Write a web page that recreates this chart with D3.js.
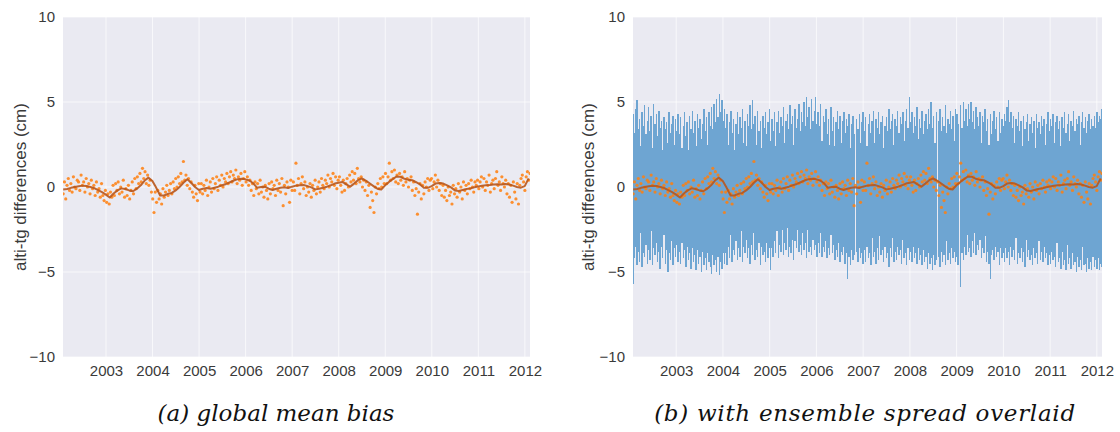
<!DOCTYPE html>
<html><head><meta charset="utf-8">
<script src="https://cdn.jsdelivr.net/npm/d3@7"></script>
<style>body{margin:0;background:#fff}svg{display:block}</style>
</head><body>
<svg id="chart" width="1120" height="432"></svg>
<script>
// ---------- data ----------
const yearTicks = [2003, 2004, 2005, 2006, 2007, 2008, 2009, 2010, 2011, 2012];
const yTickValues = [-10, -5, 0, 5, 10];
const yTickLabels = ["\u221210", "\u22125", "0", "5", "10"];
const timeStart = 2002.08, timeEnd = 2012.11;   // decimal years of first / last cycle
const captions = ["(a) global mean bias", "(b) with ensemble spread overlaid"];
const yLabel = "alti-tg differences (cm)";

// per-cycle (~10 day) global mean bias (cm)
const cycleBias = [
-0.4,0.3,-0.7,0.1,0.5,-0.2,0.2,-0.3,0.6,0.0,-0.1,0.4,0.3,-0.2,0.7,0.1,0.3,-0.3,0.5,0.0,0.2,-0.4,0.4,-0.1,0.1,-0.5,0.3,-0.3,-0.1,-0.6,0.2,-0.5,-0.8,-0.2,-0.9,-0.4,
-1.0,-0.3,-0.6,0.1,-0.5,0.2,-0.2,0.3,-0.4,0.0,-0.3,0.4,-0.6,-0.1,-0.5,0.1,-0.7,-0.2,0.3,-0.4,0.5,-0.1,0.6,0.2,0.8,0.3,1.1,0.5,0.9,0.2,0.7,0.1,0.4,-0.3,-0.7,-1.5,
-0.3,-0.9,-0.2,-0.7,-0.4,-1.0,-0.1,-0.6,-0.3,0.1,-0.5,-0.2,0.2,-0.4,0.3,-0.1,0.5,0.0,0.6,0.2,0.8,0.3,1.5,0.4,0.7,0.1,0.5,-0.1,0.3,-0.3,-0.6,0.1,-0.4,-0.8,0.2,-0.3,
0.2,-0.4,0.1,-0.2,0.4,-0.5,0.0,0.3,-0.3,0.5,-0.1,0.2,0.6,-0.2,0.4,0.1,0.7,0.0,0.5,0.3,0.8,0.2,0.6,0.9,0.3,0.7,0.5,1.0,0.2,0.6,0.4,0.8,0.1,0.5,0.9,0.3,
0.6,0.1,0.4,-0.2,0.2,-0.5,0.3,-0.1,0.2,-0.4,0.4,-0.3,0.0,-0.6,0.1,-0.2,-0.7,0.2,-0.4,0.3,-0.1,0.1,-0.5,0.4,-0.2,0.2,-0.3,0.5,-1.1,0.1,-0.4,0.3,0.0,-0.9,0.4,-0.2,
0.3,-0.2,1.4,0.1,0.5,-0.4,0.2,0.6,-0.1,0.3,-0.5,0.0,-0.3,0.2,-0.6,0.1,-0.2,0.4,-0.4,0.0,0.3,-0.3,0.5,0.1,-0.1,0.4,0.2,0.7,0.0,0.5,0.3,0.8,0.1,0.6,-0.1,0.4,
0.6,0.1,-0.3,0.4,-0.2,0.2,0.5,0.0,0.7,0.3,0.9,0.4,0.8,0.2,1.1,0.5,0.3,0.6,0.0,0.4,-0.2,0.3,-0.5,0.1,-1.2,-0.3,-0.8,-1.5,0.0,-0.4,0.2,-0.1,0.5,0.0,0.6,0.2,
0.8,0.2,0.6,1.4,0.4,0.9,0.5,1.0,0.3,0.7,0.2,0.8,0.4,0.6,0.1,0.9,0.3,0.5,0.0,0.4,0.6,-0.2,0.3,-0.5,-0.1,-1.6,-0.3,0.2,-0.7,0.1,-0.4,0.3,0.0,0.5,-0.2,0.4,
0.5,-0.1,0.3,0.7,0.0,0.4,-0.2,0.2,-0.5,0.1,-0.6,-0.2,-0.8,0.0,-0.5,-0.3,-1.0,0.1,-0.4,-0.1,-0.6,0.2,-0.3,0.0,-0.7,0.3,-0.2,0.1,-0.4,0.2,-0.1,0.4,0.0,-0.3,0.3,0.1,
0.4,-0.1,0.3,0.6,0.0,0.5,-0.2,0.3,0.1,0.7,-0.3,0.2,0.4,-0.1,0.5,0.9,0.1,0.3,-0.2,0.6,0.2,0.0,0.4,-0.4,0.2,-0.6,0.1,-0.9,0.3,-0.3,-0.7,0.2,-1.0,0.1,0.5,0.7,
0.3,-0.2,0.6,0.9,0.4,0.8
];

// monthly running mean (cm), first month at timeStart
const monthlyMean = [
-0.15,-0.12,-0.05,0.00,0.04,0.08,0.06,0.00,-0.06,-0.18,-0.30,-0.45,
-0.62,-0.38,-0.20,-0.08,-0.12,-0.20,-0.25,-0.10,0.10,0.38,0.55,0.35,
-0.05,-0.50,-0.50,-0.40,-0.35,-0.20,0.00,0.25,0.45,0.25,0.00,-0.18,
-0.10,-0.06,-0.10,-0.04,0.02,0.10,0.18,0.28,0.38,0.46,0.48,0.45,
0.38,0.22,-0.05,0.00,0.02,-0.10,-0.18,-0.10,-0.05,-0.02,-0.06,0.02,
0.08,0.10,0.12,0.05,-0.02,-0.14,-0.10,-0.04,0.02,0.10,0.20,0.25,
0.30,0.15,0.02,0.20,0.40,0.50,0.38,0.22,0.05,-0.10,-0.15,0.10,
0.30,0.47,0.62,0.60,0.48,0.42,0.40,0.28,0.15,-0.05,-0.05,0.05,
0.20,0.24,0.20,0.10,-0.02,-0.20,-0.24,-0.18,-0.12,-0.08,-0.02,0.03,
0.07,0.10,0.12,0.15,0.16,0.15,0.17,0.15,0.08,0.00,-0.04,0.05,
0.50
];

// ensemble spread envelope per cycle (cm); null = missing cycle
const spreadUpper = [
4.3,3.2,4.6,5.1,3.4,4.0,2.4,4.4,3.6,4.8,3.1,3.9,4.7,3.3,4.2,2.3,4.9,3.7,4.3,3.0,4.5,3.5,3.9,2.2,4.1,3.4,3.8,2.6,4.4,3.2,3.7,4.2,2.5,4.0,3.3,4.3,
3.1,4.1,2.3,3.6,4.4,3.0,3.8,2.2,4.2,3.4,4.5,3.2,3.9,2.4,4.3,3.5,4.0,2.8,3.7,4.6,3.3,4.1,2.5,4.4,3.6,4.7,3.4,4.9,3.8,5.2,4.1,5.5,4.4,5.1,3.9,4.6,
3.5,4.3,2.5,3.8,4.5,3.2,4.0,2.2,3.7,4.4,3.1,4.1,3.5,4.6,2.6,3.9,2.4,4.3,3.6,4.8,3.4,5.1,3.7,4.2,2.5,4.5,3.3,3.9,2.3,4.2,3.5,4.4,3.1,3.8,4.6,2.7,
4.0,3.3,4.4,2.4,3.8,4.5,3.2,4.1,3.6,4.7,2.6,3.9,4.3,3.4,4.8,3.7,4.2,2.5,4.6,3.5,4.0,4.9,3.3,4.4,3.8,5.0,3.6,5.3,4.1,4.7,3.4,5.2,3.9,4.5,5.3,3.7,
4.4,3.6,4.9,2.7,4.2,3.8,4.6,3.1,4.0,2.5,4.7,3.3,4.1,2.4,3.8,4.5,3.4,4.2,2.6,3.9,4.4,3.2,4.0,3.6,4.3,2.3,3.7,4.2,3.1,null,4.0,3.4,4.3,2.6,3.8,4.4,
3.3,4.1,2.4,3.7,4.3,3.2,3.9,4.5,2.6,4.0,3.5,4.4,3.1,3.8,4.2,2.3,3.6,4.1,3.3,4.6,3.4,3.9,4.3,2.5,4.0,3.6,4.5,3.2,4.1,3.7,4.4,2.7,3.9,4.6,3.5,5.3,
3.8,4.4,3.2,4.1,3.6,4.7,2.8,4.0,3.5,4.5,3.1,3.9,4.3,3.4,4.6,3.7,5.0,3.5,4.2,2.6,4.4,null,3.9,4.6,3.3,4.1,3.6,4.8,3.2,4.0,3.7,4.5,3.4,4.2,2.7,4.6,
4.3,3.7,null,4.8,3.5,5.0,3.9,4.6,3.6,4.9,4.0,5.0,3.8,4.5,3.4,4.7,4.1,3.6,4.4,2.6,4.2,3.8,4.6,3.3,4.0,2.5,4.3,3.1,3.9,4.5,3.4,4.1,2.7,4.4,3.2,4.0,
3.6,4.3,3.9,4.7,5.1,3.8,4.4,3.5,4.2,2.6,4.0,3.6,4.4,3.3,3.9,2.4,4.2,3.4,3.8,4.3,2.7,3.7,4.1,3.2,3.9,2.3,4.3,3.5,3.8,3.1,4.2,3.6,4.0,2.5,3.7,4.4,
3.3,4.0,3.6,4.3,2.6,3.8,4.2,3.4,3.9,2.4,4.1,3.5,4.4,3.2,3.7,4.3,2.7,3.9,3.6,4.5,3.3,4.0,3.7,4.2,2.5,3.8,4.4,3.5,4.1,3.2,3.9,4.3,3.4,4.0,3.6,4.2,
3.5,4.4,3.8,4.2,4.0,4.6
];
const spreadLower = [
-5.7,-4.2,-3.5,-4.6,-3.8,-4.4,-2.7,-4.7,-3.9,-4.1,-3.4,-4.5,-3.7,-4.3,-2.6,-4.6,-3.6,-4.0,-3.3,-4.4,-3.8,-4.8,-3.5,-4.2,-2.8,-4.5,-3.7,-5.0,-3.9,-4.3,-3.2,-4.6,-3.6,-4.1,-3.4,-4.4,
-3.8,-4.5,-3.3,-4.2,-3.7,-4.7,-3.5,-4.3,-3.9,-4.8,-3.6,-4.4,-4.0,-4.9,-3.7,-4.5,-4.1,-5.0,-3.8,-4.6,-4.2,-4.9,-3.9,-4.4,-4.7,-5.1,-4.0,-4.6,-4.3,-5.0,-4.1,-5.2,-4.4,-4.8,-3.9,-4.5,
-3.9,-4.6,-3.5,-4.2,-2.8,-4.4,-3.7,-4.0,-3.2,-4.3,-3.6,-4.1,-2.6,-4.4,-3.5,-3.9,-3.1,-4.2,-3.6,-4.5,-3.4,-4.0,-2.7,-4.3,-3.7,-4.1,-3.3,-4.6,-3.5,-4.0,-3.8,-4.4,-3.3,-4.2,-3.6,-4.9,
-3.6,-4.1,-3.2,-3.9,-2.6,-4.2,-3.4,-3.8,-2.5,-4.0,-3.3,-3.7,-2.4,-4.1,-3.5,-3.9,-3.1,-4.3,-3.2,-3.6,-2.5,-3.8,-3.4,-4.0,-2.7,-3.7,-3.3,-4.2,-2.5,-3.8,-3.5,-4.0,-3.1,-3.7,-3.4,-4.1,
-3.3,-3.9,-2.7,-4.1,-3.5,-3.8,-3.2,-4.2,-3.6,-4.0,-2.8,-3.9,-3.4,-4.3,-3.7,-4.1,-3.3,-4.4,-3.8,-4.0,-3.5,-4.5,-3.9,-5.4,-4.1,-4.6,-3.7,-4.3,-4.0,null,-3.8,-4.4,-3.6,-4.2,-3.9,-4.5,
-3.7,-4.4,-3.5,-4.2,-3.9,-4.6,-3.0,-4.1,-3.8,-4.5,-3.6,-4.3,-2.9,-4.0,-3.7,-4.4,-3.5,-4.2,-3.9,-4.7,-3.6,-4.1,-3.0,-4.4,-3.8,-4.3,-3.5,-4.0,-3.7,-4.5,-3.1,-4.2,-3.9,-4.6,-3.6,-4.3,
-3.8,-4.4,-3.5,-4.2,-3.9,-4.5,-3.6,-4.3,-4.0,-4.6,-3.7,-4.4,-4.1,-4.8,-3.9,-4.5,-4.2,-4.9,-4.0,-4.6,-4.3,null,-4.1,-4.7,-3.8,-4.4,-4.0,-4.6,-3.2,-4.3,-3.9,-4.5,-3.6,-4.2,-3.8,-4.4,
-4.1,-4.6,null,-5.9,-3.9,-4.3,-3.5,-4.0,-2.8,-3.8,-3.6,-4.1,-3.2,-3.9,-2.7,-4.0,-3.4,-3.7,-3.1,-4.2,-3.6,-3.9,-2.9,-4.4,-3.8,-4.5,-5.4,-4.0,-3.7,-4.3,-3.5,-4.1,-3.8,-4.6,-3.6,-4.2,
-3.9,-4.4,-3.6,-4.2,-3.8,-4.6,-3.5,-4.1,-3.7,-4.3,-3.0,-4.5,-3.9,-4.2,-3.6,-4.4,-3.8,-4.7,-3.1,-4.1,-3.7,-4.3,-4.0,-4.6,-3.6,-4.2,-3.9,-4.5,-3.2,-4.3,-3.8,-4.4,-3.5,-4.2,-3.9,-4.6,
-4.0,-4.5,-3.8,-4.3,-4.1,-4.7,-3.3,-4.4,-4.2,-4.8,-3.8,-4.6,-4.3,-4.9,-3.4,-4.5,-4.2,-4.8,-3.9,-4.6,-4.4,-5.0,-4.1,-4.7,-4.3,-4.9,-3.5,-4.6,-4.5,-5.0,-4.2,-4.8,-4.4,-4.9,-4.1,-4.7,
-4.3,-4.8,-4.2,-4.9,-4.5,-4.7
];

// ---------- derived tables ----------
const nCycles = cycleBias.length;
const cycleStep = (timeEnd - timeStart) / (nCycles - 1);
const cycles = cycleBias.map((v, i) => ({ t: timeStart + i * cycleStep, v,
  hi: spreadUpper[i], lo: spreadLower[i] }));
const monthly = monthlyMean.map((v, i) => ({ t: timeStart + i / 12, v }));

// ---------- drawing ----------
const svg = d3.select("#chart");
const panels = [
  { x0: 63, x1: 530, band: false, labelX: 22, caption: captions[0], capX: 276, capSpacing: 0 },
  { x0: 633, x1: 1102, band: true, labelX: 590, caption: captions[1], capX: 865, capSpacing: 0.7 }
];
const yTop = 17, yBot = 357;
const y = d3.scaleLinear().domain([-10, 10]).range([yBot, yTop]);

panels.forEach((p, k) => {
  const x = d3.scaleLinear().domain([2002.076, 2012.11]).range([p.x0, p.x1]);
  const g = svg.append("g");
  g.append("rect").attr("x", p.x0).attr("y", yTop).attr("width", p.x1 - p.x0)
    .attr("height", yBot - yTop).attr("fill", "#eaeaf2");

  const clipId = "clip" + k;
  svg.append("defs").append("clipPath").attr("id", clipId).append("rect")
    .attr("x", p.x0).attr("y", yTop).attr("width", p.x1 - p.x0).attr("height", yBot - yTop);

  // grid
  g.append("g").selectAll("line").data(yearTicks).join("line")
    .attr("x1", d => x(d)).attr("x2", d => x(d)).attr("y1", yTop).attr("y2", yBot)
    .attr("stroke", "#fff").attr("stroke-opacity", 0.7).attr("stroke-width", 1);
  g.append("g").selectAll("line").data(yTickValues).join("line")
    .attr("x1", p.x0).attr("x2", p.x1).attr("y1", d => y(d)).attr("y2", d => y(d))
    .attr("stroke", "#fff").attr("stroke-opacity", 0.7).attr("stroke-width", 1);

  const plot = g.append("g").attr("clip-path", `url(#${clipId})`);
  if (p.band) {
    const w = Math.abs(x(timeStart + cycleStep) - x(timeStart)) + 0.15;
    plot.append("g").selectAll("rect")
      .data(cycles.filter(d => d.hi !== null && d.lo !== null)).join("rect")
      .attr("x", d => x(d.t) - w / 2).attr("width", w)
      .attr("y", d => y(d.hi)).attr("height", d => y(d.lo) - y(d.hi))
      .attr("fill", "#6ea5d2").attr("shape-rendering", "crispEdges");
  }
  plot.append("g").selectAll("circle").data(cycles).join("circle")
    .attr("cx", d => x(d.t)).attr("cy", d => y(d.v)).attr("r", 1.6)
    .attr("fill", "#ff7f0e").attr("fill-opacity", 0.85);
  const line = d3.line().x(d => x(d.t)).y(d => y(d.v)).curve(d3.curveLinear);
  plot.append("path").datum(monthly).attr("d", line)
    .attr("fill", "none").attr("stroke", "#b8561c").attr("stroke-width", 2)
    .attr("stroke-linejoin", "round").attr("stroke-opacity", 0.9);

  // axes (seaborn style: labels only)
  const xAxis = d3.axisBottom(x).tickValues(yearTicks).tickFormat(d3.format("d"))
    .tickSize(0).tickPadding(8);
  const xa = g.append("g").attr("transform", `translate(0,${yBot})`).call(xAxis);
  const yAxis = d3.axisLeft(y).tickValues(yTickValues)
    .tickFormat((d, i) => yTickLabels[i]).tickSize(0).tickPadding(8);
  const ya = g.append("g").attr("transform", `translate(${p.x0},0)`).call(yAxis);
  [xa, ya].forEach(a => {
    a.select(".domain").remove();
    a.selectAll("text").attr("font-family", "Liberation Sans, Arial, sans-serif")
      .attr("font-size", 15).attr("fill", "#3a3a3a");
  });

  g.append("text").attr("transform", `translate(${p.labelX},${(yTop + yBot) / 2}) rotate(-90)`)
    .attr("text-anchor", "middle").attr("dominant-baseline", "middle")
    .attr("font-family", "Liberation Sans, Arial, sans-serif").attr("font-size", 17)
    .attr("fill", "#3a3a3a").text(yLabel);

  svg.append("text").attr("x", p.capX).attr("y", 421).attr("text-anchor", "middle")
    .attr("font-family", "DejaVu Serif, serif").attr("font-style", "italic")
    .attr("font-size", 23).attr("letter-spacing", p.capSpacing)
    .attr("fill", "#111").text(p.caption);
});
</script>
</body></html>
